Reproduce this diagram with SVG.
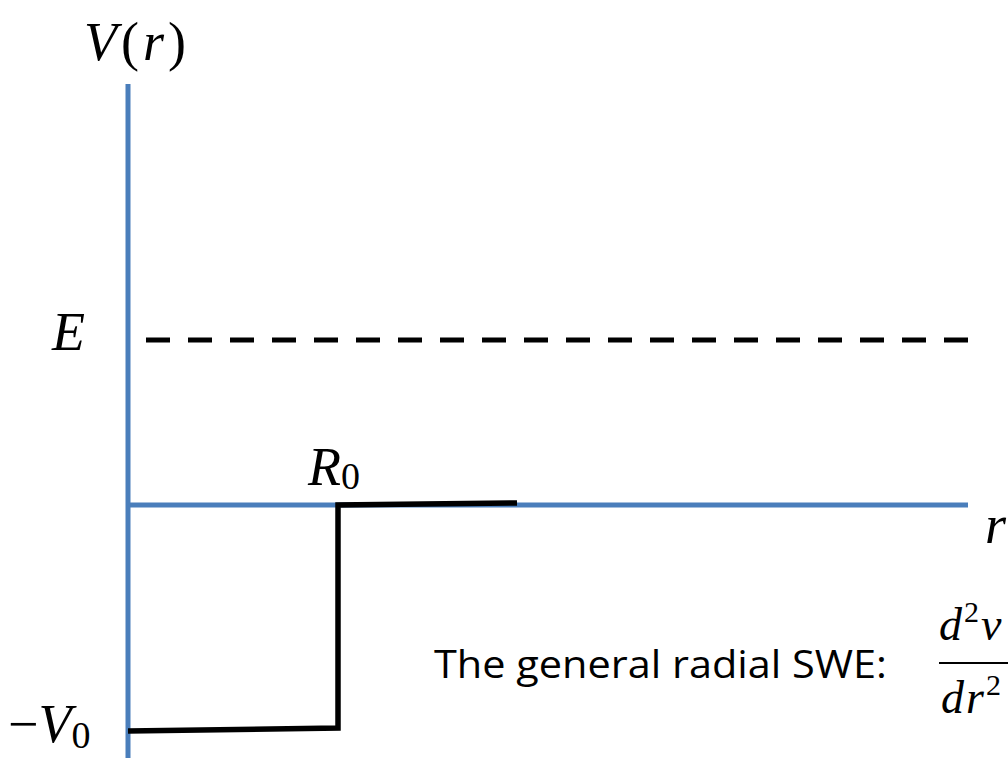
<svg xmlns="http://www.w3.org/2000/svg" width="1008" height="758" viewBox="0 0 1008 758">
<style>
.axis{stroke:#4a7ebb;stroke-width:5;fill:none}
.pot{stroke:#000;stroke-width:5.5;fill:none;stroke-linejoin:miter}
.dash{stroke:#000;stroke-width:5;stroke-dasharray:24 18;fill:none}
.m{font-family:"Liberation Serif","DejaVu Serif",serif;font-style:italic;fill:#000}
.u{font-family:"Liberation Serif","DejaVu Serif",serif;font-style:normal;fill:#000}
.t{font-family:"Open Sans","Liberation Sans",sans-serif;fill:#000}
</style>
<rect width="1008" height="758" fill="#fff"/>
<g id="axes">
<line class="axis" x1="128" y1="84" x2="128" y2="758"/>
<line class="axis" x1="128" y1="505" x2="968" y2="505"/>
</g>
<g id="connectors">
<line class="dash" x1="146" y1="340" x2="968" y2="340"/>
<polyline class="pot" points="128,731 338,728 338,505 517,503"/>
</g>
<g id="label-V">
<text x="84" y="60" font-size="54" class="m" letter-spacing="4">V<tspan class="u">(</tspan>r<tspan class="u">)</tspan></text>
</g>
<g id="label-E">
<text x="52" y="350" font-size="54" class="m">E</text>
</g>
<g id="label-R0">
<text x="308" y="485" font-size="54" class="m">R<tspan class="u" font-size="38" dy="4">0</tspan></text>
</g>
<g id="label-V0">
<text x="8" y="742" font-size="54" class="u">−<tspan class="m">V</tspan><tspan font-size="38" dy="6">0</tspan></text>
</g>
<g id="label-r">
<text x="985" y="543" font-size="54" class="m">r</text>
</g>
<g id="equation">
<text x="434" y="678" font-size="38" class="t" textLength="453" lengthAdjust="spacingAndGlyphs">The general radial SWE:</text>
<text x="939" y="640" font-size="46" class="m" letter-spacing="2">d<tspan class="u" font-size="30" dy="-18">2</tspan><tspan dy="18">v</tspan></text>
<line x1="939" y1="663" x2="1010" y2="663" stroke="#000" stroke-width="2"/>
<text x="941" y="713" font-size="46" class="m" letter-spacing="2">dr<tspan class="u" font-size="30" dy="-18">2</tspan></text>
</g>
</svg>
